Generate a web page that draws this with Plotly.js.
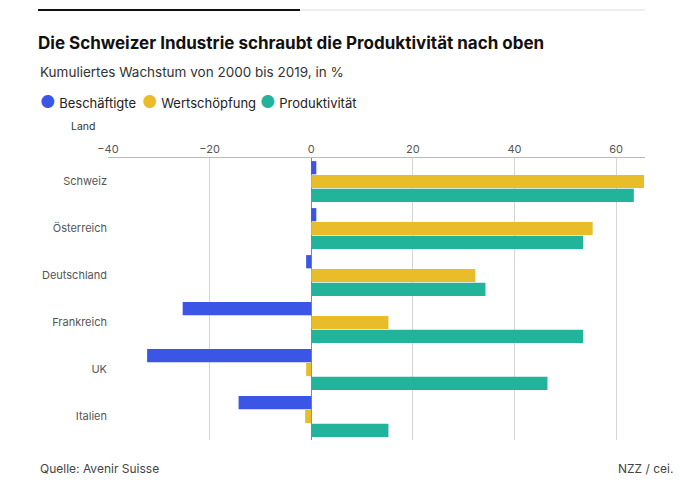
<!DOCTYPE html>
<html><head><meta charset="utf-8">
<script src="https://cdn.plot.ly/plotly-3.0.1.min.js"></script>
<style>body{margin:0;background:#fff}</style>
</head><body>
<div id="chart" style="width:680px;height:483px"></div>
<script>
// Kumuliertes Wachstum 2000-2019, in %
var laender = ['Schweiz', 'Österreich', 'Deutschland', 'Frankreich', 'UK', 'Italien'];
var beschaeftigte = [1, 1, -1, -25.3, -32.3, -14.3];
var wertschoepfung = [65.5, 55.4, 32.3, 15.2, -1, -1.2];
var produktivitaet = [63.5, 53.5, 34.3, 53.5, 46.5, 15.2];
var serien = ['Beschäftigte', 'Wertschöpfung', 'Produktivität'];
var farben = ['#3b55e6', '#e9bd29', '#22b49a'];

function bar(i, vals) {
  return {type: 'bar', orientation: 'h', name: serien[i], x: vals, y: laender,
    marker: {color: farben[i]}, hoverinfo: 'x+name'};
}

var data = [bar(0, beschaeftigte), bar(1, wertschoepfung), bar(2, produktivitaet)];

var font = 'Inter, "Noto Sans", sans-serif';
var pw = 537, ph = 282;

// legend drawn as annotations (round markers)
var legendX = [38, 140, 258];
var legendAnn = serien.map(function (s, i) {
  return {text: '<span style="color:' + farben[i] + ';font-size:17px">●</span> ' + s,
    xref: 'paper', yref: 'paper', x: (legendX[i] - 108) / pw, y: 1 + 56 / ph,
    xanchor: 'left', yanchor: 'middle', showarrow: false,
    font: {size: 13, color: '#222'}};
});

var layout = {
  width: 680, height: 483,
  margin: {l: 108, r: 35, t: 158, b: 43},
  font: {family: font, color: '#333'},
  paper_bgcolor: '#fff', plot_bgcolor: '#fff',
  barmode: 'group', bargap: 0.12, bargroupgap: 0.04,
  showlegend: false,
  title: {text: '<b>Die Schweizer Industrie schraubt die Produktivität nach oben</b>',
    x: 38 / 680, xanchor: 'left', y: 1 - 43 / 483, yanchor: 'middle',
    font: {size: 17, color: '#111', family: font}},
  xaxis: {side: 'top', range: [-40, 65.7], tickvals: [-40, -20, 0, 20, 40, 60],
    ticktext: ['−40', '−20', '0', '20', '40', '60'],
    showgrid: true, gridcolor: '#d6d6d6', zeroline: true, zerolinecolor: '#888',
    zerolinewidth: 1, showline: true, linecolor: '#bbb',
    tickfont: {size: 11, color: '#555'}, ticks: '', fixedrange: true},
  yaxis: {autorange: 'reversed', showgrid: false, ticks: '', ticklen: 4,
    tickfont: {size: 11, color: '#555'}, fixedrange: true},
  shapes: [
    {type: 'line', xref: 'paper', yref: 'paper', x0: -70/pw, x1: 192/pw, y0: 1 + 148/ph, y1: 1 + 148/ph,
      line: {color: '#111', width: 2}},
    {type: 'line', xref: 'paper', yref: 'paper', x0: 192/pw, x1: 1, y0: 1 + 148/ph, y1: 1 + 148/ph,
      line: {color: '#ddd', width: 1}}
  ],
  annotations: legendAnn.concat([
    {text: 'Kumuliertes Wachstum von 2000 bis 2019, in %', xref: 'paper', yref: 'paper',
      x: -70/pw, y: 1 + 86/ph, xanchor: 'left', yanchor: 'middle', showarrow: false,
      font: {size: 13.5, color: '#333'}},
    {text: 'Land', xref: 'paper', yref: 'paper', x: -0.02, y: 1 + 32/ph, xanchor: 'right',
      yanchor: 'middle', showarrow: false, font: {size: 10.5, color: '#333'}},
    {text: 'Quelle: Avenir Suisse', xref: 'paper', yref: 'paper', x: -70/pw, y: -0.1,
      xanchor: 'left', yanchor: 'middle', showarrow: false, font: {size: 12, color: '#444'}},
    {text: 'NZZ / cei.', xref: 'paper', yref: 'paper', x: 1.055, y: -0.1,
      xanchor: 'right', yanchor: 'middle', showarrow: false, font: {size: 12, color: '#444'}}
  ])
};

Plotly.newPlot('chart', data, layout, {displayModeBar: false, staticPlot: true});
</script>
</body></html>
